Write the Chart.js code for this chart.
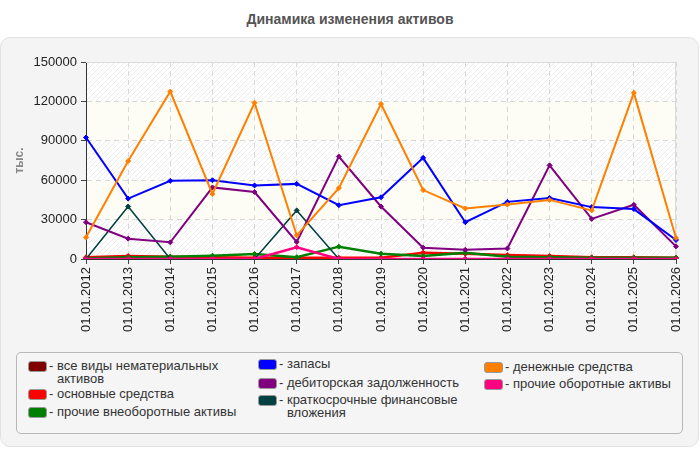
<!DOCTYPE html>
<html>
<head>
<meta charset="utf-8">
<script src="https://cdn.jsdelivr.net/npm/chart.js@4/dist/chart.umd.min.js"></script>
<style>
  html, body { margin: 0; padding: 0; background: #fff; }
  body { width: 700px; height: 450px; position: relative; overflow: hidden; font-family: "Liberation Sans", Arial, sans-serif; }
  #title { position: absolute; left: 0; top: 11px; width: 700px; text-align: center; font-weight: bold; font-size: 14px; color: #555; }
  #panel { position: absolute; left: 0; top: 37px; width: 697px; height: 408px; background: #f4f4f4; border: 1px solid #e2e2e2; border-radius: 10px; }
  #wrap { position: absolute; left: 0; top: 37px; width: 700px; height: 310px; }
  #legend { position: absolute; left: 16px; top: 352px; width: 665px; height: 80px; border: 1px solid #b8b8b8; border-radius: 5px; background: #f5f5f5; }
  .item { position: absolute; font-size: 13px; line-height: 13px; color: #333; }
  .sw { position: absolute; width: 17px; height: 9px; border: 1px solid #999; border-radius: 3px; }
  .tx { position: absolute; padding-left: 8px; text-indent: -8px; }
</style>
</head>
<body>
<div id="title">Динамика изменения активов</div>
<div id="panel"></div>
<div id="wrap"><canvas id="c" width="700" height="310"></canvas></div>
<div id="legend"></div>
<script>
const categories = ['01.01.2012','01.01.2013','01.01.2014','01.01.2015','01.01.2016','01.01.2017','01.01.2018','01.01.2019','01.01.2020','01.01.2021','01.01.2022','01.01.2023','01.01.2024','01.01.2025','01.01.2026'];

const seriesNames = [
  'все виды нематериальных активов',
  'основные средства',
  'прочие внеоборотные активы',
  'запасы',
  'дебиторская задолженность',
  'краткосрочные финансовые вложения',
  'денежные средства',
  'прочие оборотные активы'
];

const nematerialnye = [0, 0, 0, 0, 0, 0, 0, 0, 0, 0, 0, 0, 0, 0, 0];
const osnovnye      = [1300, 2300, 1800, 1300, 1000, 1000, 1000, 1000, 4800, 4000, 3000, 2300, 1300, 1300, 1000];
const prochieVneob  = [500, 1300, 1800, 2500, 3800, 1300, 9400, 4000, 2300, 4800, 1800, 1300, 1000, 1000, 1000];
const zapasy        = [92500, 46000, 59500, 60000, 56000, 57200, 41000, 47000, 77000, 28000, 43500, 46500, 39500, 38000, 14500];
const debitorka     = [28000, 15500, 12700, 54500, 51000, 13000, 78000, 40000, 8600, 7000, 8000, 71300, 30500, 41300, 9600];
const kratkosroch   = [0, 40000, 0, 0, 0, 37000, 0, 0, 0, 0, 0, 0, 0, 0, 0];
const denezhnye     = [16500, 74600, 127500, 49500, 119000, 18000, 54000, 118000, 52500, 38500, 41500, 45000, 37000, 126500, 16000];
const prochieOborot = [0, 0, 0, 0, 0, 9000, 0, 0, 0, 0, 0, 0, 0, 0, 0];

const yTicks = [0, 30000, 60000, 90000, 120000, 150000];
const yAxisTitle = 'тыс.';

const seriesValues = [nematerialnye, osnovnye, prochieVneob, zapasy, debitorka, kratkosroch, denezhnye, prochieOborot];
const seriesColors = ['#800000', '#ff0000', '#008000', '#0000ff', '#800080', '#004040', '#ff8000', '#ff0080'];
const seriesWidths = [2, 2.5, 2.5, 2, 2, 1.5, 2, 2.5];
const seriesOrder = [7, 6, 5, 2, 3, 4, 1, 0];

// hatch pattern
const pc = document.createElement('canvas');
pc.width = 5; pc.height = 5;
const pctx = pc.getContext('2d');
pctx.fillStyle = '#ffffff';
pctx.fillRect(0, 0, 5, 5);
pctx.strokeStyle = '#ededed';
pctx.lineWidth = 1;
pctx.beginPath();
pctx.moveTo(-1, 6); pctx.lineTo(6, -1);
pctx.stroke();

const bgPlugin = {
  id: 'bands',
  beforeDraw(chart) {
    const {ctx, chartArea: a, scales: {y}} = chart;
    const pat = ctx.createPattern(pc, 'repeat');
    ctx.save();
    for (let i = 0; i < yTicks.length - 1; i++) {
      const y1 = y.getPixelForValue(yTicks[i]);
      const y2 = y.getPixelForValue(yTicks[i + 1]);
      ctx.fillStyle = (i % 2 === 0) ? pat : '#fdfdf6';
      ctx.fillRect(a.left, y2, a.right - a.left, y1 - y2);
    }
    ctx.restore();
  },
  beforeDatasetsDraw(chart) {
    const {ctx, chartArea: a} = chart;
    ctx.save();
    ctx.strokeStyle = '#dcdcdc';
    ctx.lineWidth = 1;
    ctx.beginPath();
    ctx.moveTo(a.left, a.top + 0.5);
    ctx.lineTo(a.right - 0.5, a.top + 0.5);
    ctx.lineTo(a.right - 0.5, a.bottom);
    ctx.stroke();
    ctx.restore();
  }
};

const datasets = seriesNames.map((name, i) => ({
  label: name,
  data: seriesValues[i],
  borderColor: seriesColors[i],
  backgroundColor: seriesColors[i],
  borderWidth: seriesWidths[i],
  pointStyle: 'rectRot',
  pointRadius: 2.5,
  pointBorderWidth: 1,
  tension: 0,
  fill: false,
  order: seriesOrder[i]
}));

const chart = new Chart(document.getElementById('c'), {
  type: 'line',
  data: { labels: categories, datasets },
  options: {
    responsive: false,
    animation: false,
    layout: { padding: { top: 25, right: 24, left: 0, bottom: 0 } },
    plugins: { legend: { display: false }, tooltip: { enabled: false } },
    scales: {
      x: {
        afterFit(s) { s.height = 88; },
        grid: { color: '#d8d8d8', tickColor: '#444', tickLength: 5, drawOnChartArea: true },
        border: { display: true, color: '#333', width: 1, dash: [5, 4] },
        ticks: { autoSkip: false, maxRotation: 90, minRotation: 90, padding: 3, color: '#222', font: { family: '"Liberation Sans", Arial, sans-serif', size: 13 } }
      },
      y: {
        min: 0, max: 150000,
        afterFit(s) { s.width = 86; },
        afterBuildTicks(s) { s.ticks = yTicks.map(v => ({ value: v })); },
        grid: { color: '#d8d8d8', tickColor: '#444', tickLength: 5 },
        border: { display: true, color: '#333', width: 1, dash: [5, 4] },
        ticks: { padding: 4, color: '#222', callback: v => String(v), font: { family: '"Liberation Sans", Arial, sans-serif', size: 13 } },
        title: { display: true, text: yAxisTitle, color: '#888', padding: { top: 12, bottom: 0 }, font: { family: '"Liberation Sans", Arial, sans-serif', size: 12, weight: 'bold' } }
      }
    }
  },
  plugins: [bgPlugin]
});

// HTML legend (column-wise layout)
const legendPos = [[11, 13], [11, 41], [11, 59], [241, 11], [241, 30], [241, 47], [467, 14], [467, 31]];
const legend = document.getElementById('legend');
chart.data.datasets.forEach((ds, i) => {
  const [lx, ly] = legendPos[i];
  const sw = document.createElement('div');
  sw.className = 'sw';
  sw.style.left = lx + 'px';
  sw.style.top = (ly - 5.5) + 'px';
  sw.style.background = ds.borderColor;
  legend.appendChild(sw);
  const tx = document.createElement('div');
  tx.className = 'item tx';
  tx.style.left = (lx + 21) + 'px';
  tx.style.top = (ly - 7) + 'px';
  tx.style.width = '190px';
  tx.textContent = '- ' + ds.label;
  legend.appendChild(tx);
});
</script>
</body>
</html>
